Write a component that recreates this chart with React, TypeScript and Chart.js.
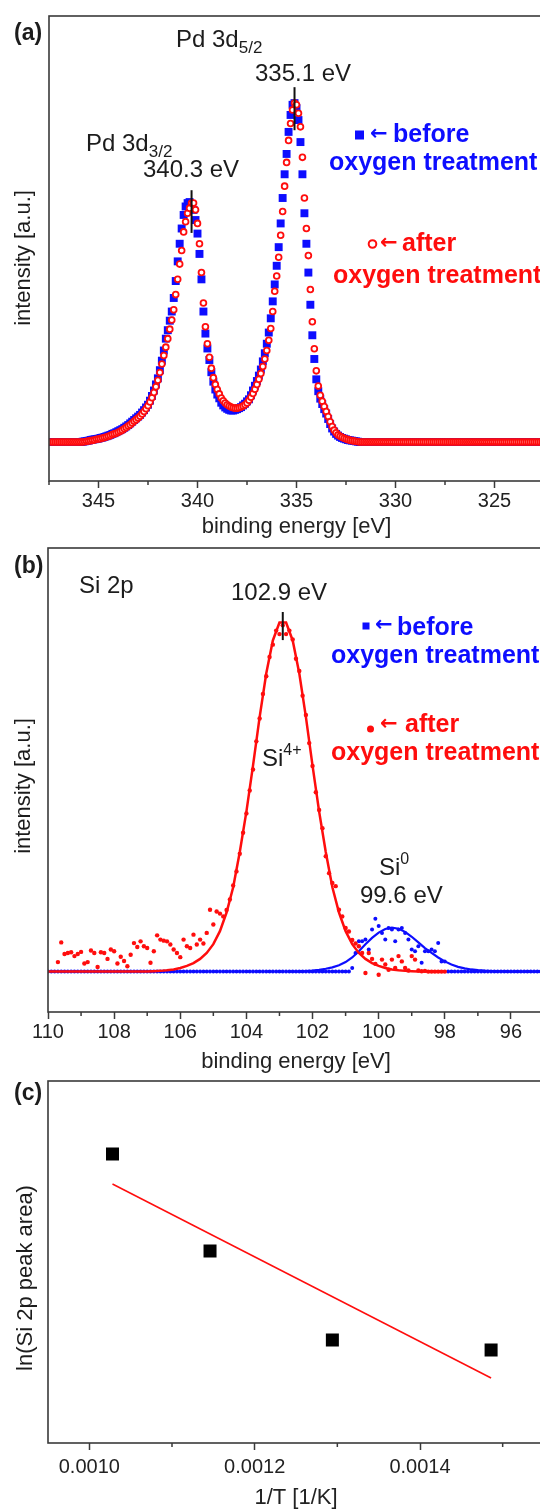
import React, { useEffect, useRef } from 'react';
import { Chart, registerables } from 'chart.js';

Chart.register(...registerables);

const FONT = "'Liberation Sans', Arial, Helvetica, sans-serif";
const ARROW_FONT = "'DejaVu Sans', 'Liberation Sans', sans-serif";
const BLUE = '#0d0dff';
const RED = '#ff0d0d';
const INK = '#1c1c1c';
const FRAME = '#3a3a3a';

// ---------------- panel (a): Pd 3d ----------------
const pdEnergy = [
  347.4, 347.3, 347.2, 347.1, 347.0, 346.9, 346.8, 346.7, 346.6, 346.5,
  346.4, 346.3, 346.2, 346.1, 346.0, 345.9, 345.8, 345.7, 345.6, 345.5,
  345.4, 345.3, 345.2, 345.1, 345.0, 344.9, 344.8, 344.7, 344.6, 344.5,
  344.4, 344.3, 344.2, 344.1, 344.0, 343.9, 343.8, 343.7, 343.6, 343.5,
  343.4, 343.3, 343.2, 343.1, 343.0, 342.9, 342.8, 342.7, 342.6, 342.5,
  342.4, 342.3, 342.2, 342.1, 342.0, 341.9, 341.8, 341.7, 341.6, 341.5,
  341.4, 341.3, 341.2, 341.1, 341.0, 340.9, 340.8, 340.7, 340.6, 340.5,
  340.4, 340.3, 340.2, 340.1, 340.0, 339.9, 339.8, 339.7, 339.6, 339.5,
  339.4, 339.3, 339.2, 339.1, 339.0, 338.9, 338.8, 338.7, 338.6, 338.5,
  338.4, 338.3, 338.2, 338.1, 338.0, 337.9, 337.8, 337.7, 337.6, 337.5,
  337.4, 337.3, 337.2, 337.1, 337.0, 336.9, 336.8, 336.7, 336.6, 336.5,
  336.4, 336.3, 336.2, 336.1, 336.0, 335.9, 335.8, 335.7, 335.6, 335.5,
  335.4, 335.3, 335.2, 335.1, 335.0, 334.9, 334.8, 334.7, 334.6, 334.5,
  334.4, 334.3, 334.2, 334.1, 334.0, 333.9, 333.8, 333.7, 333.6, 333.5,
  333.4, 333.3, 333.2, 333.1, 333.0, 332.9, 332.8, 332.7, 332.6, 332.5,
  332.4, 332.3, 332.2, 332.1, 332.0, 331.9, 331.8, 331.7, 331.6, 331.5,
  331.4, 331.3, 331.2, 331.1, 331.0, 330.9, 330.8, 330.7, 330.6, 330.5,
  330.4, 330.3, 330.2, 330.1, 330.0, 329.9, 329.8, 329.7, 329.6, 329.5,
  329.4, 329.3, 329.2, 329.1, 329.0, 328.9, 328.8, 328.7, 328.6, 328.5,
  328.4, 328.3, 328.2, 328.1, 328.0, 327.9, 327.8, 327.7, 327.6, 327.5,
  327.4, 327.3, 327.2, 327.1, 327.0, 326.9, 326.8, 326.7, 326.6, 326.5,
  326.4, 326.3, 326.2, 326.1, 326.0, 325.9, 325.8, 325.7, 325.6, 325.5,
  325.4, 325.3, 325.2, 325.1, 325.0, 324.9, 324.8, 324.7, 324.6, 324.5,
  324.4, 324.3, 324.2, 324.1, 324.0, 323.9, 323.8, 323.7, 323.6, 323.5,
  323.4, 323.3, 323.2, 323.1, 323.0, 322.9, 322.8, 322.7, 322.6, 322.5,
];
const pdBefore = [
  0, 0, 0, 0, 0, 0, 0, 0, 0, 0,
  0, 0, 0, 0, 0, 0, 0.1, 0.2, 0.3, 0.4,
  0.6, 0.7, 0.8, 0.9, 1.0, 1.2, 1.3, 1.5, 1.7, 1.9,
  2.1, 2.4, 2.6, 2.9, 3.2, 3.5, 3.8, 4.2, 4.6, 5.0,
  5.5, 6.0, 6.5, 7.0, 7.5, 8.0, 8.7, 9.4, 10.2, 11.0,
  12.2, 13.6, 15.2, 17.0, 18.8, 21.2, 24.0, 27.0, 30.5, 33.0,
  35.8, 38.5, 42.5, 47.5, 53.3, 58.5, 63.0, 67.0, 69.5, 70.5,
  70.8, 70.0, 68.5, 65.5, 61.5, 55.5, 48.0, 38.5, 32.0, 27.6,
  24.2, 20.6, 17.8, 15.5, 14.0, 12.9, 11.6, 10.8, 10.2, 9.8,
  9.5, 9.3, 9.3, 9.5, 9.7, 10.0, 10.3, 10.8, 11.3, 12.0,
  12.6, 13.8, 15.2, 16.6, 18.0, 19.6, 21.4, 23.8, 26.2, 29.0,
  32.3, 36.5, 41.5, 46.5, 52.0, 57.5, 64.5, 72.0, 79.0, 85.0,
  91.5, 96.5, 99.5, 100.0, 98.5, 95.0, 88.5, 79.0, 67.5, 58.5,
  50.0, 40.5, 31.5, 24.5, 18.5, 15.0, 12.8, 11.2, 9.7, 8.4,
  6.8, 5.3, 4.0, 3.1, 2.4, 1.9, 1.5, 1.2, 1.0, 0.8,
  0.6, 0.5, 0.4, 0.3, 0.2, 0.1, 0, 0, 0, 0,
  0, 0, 0, 0, 0, 0, 0, 0, 0, 0,
  0, 0, 0, 0, 0, 0, 0, 0, 0, 0,
  0, 0, 0, 0, 0, 0, 0, 0, 0, 0,
  0, 0, 0, 0, 0, 0, 0, 0, 0, 0,
  0, 0, 0, 0, 0, 0, 0, 0, 0, 0,
  0, 0, 0, 0, 0, 0, 0, 0, 0, 0,
  0, 0, 0, 0, 0, 0, 0, 0, 0, 0,
  0, 0, 0, 0, 0, 0, 0, 0, 0, 0,
  0, 0, 0, 0, 0, 0, 0, 0, 0, 0,
];
const pdAfter = [
  0, 0, 0, 0, 0, 0, 0, 0, 0, 0,
  0, 0, 0, 0, 0, 0, 0, 0.1, 0.2, 0.3,
  0.4, 0.5, 0.6, 0.8, 0.9, 1.0, 1.2, 1.3, 1.5, 1.7,
  1.9, 2.2, 2.4, 2.6, 2.9, 3.2, 3.5, 3.9, 4.3, 4.7,
  5.1, 5.6, 6.1, 6.6, 7.1, 7.6, 8.3, 9.0, 9.8, 10.7,
  11.8, 13.1, 14.6, 16.3, 18.2, 20.5, 23.0, 25.5, 28.0, 30.5,
  33.3, 36.0, 39.0, 43.5, 48.0, 52.5, 56.5, 62.0, 65.0, 67.5,
  69.0, 70.5, 70.5, 68.5, 64.5, 58.5, 50.0, 41.0, 34.0, 29.0,
  25.0, 21.8, 19.0, 17.0, 15.5, 14.2, 13.0, 12.2, 11.5, 11.0,
  10.6, 10.3, 10.1, 10.0, 10.0, 10.1, 10.3, 10.6, 11.0, 11.5,
  12.3, 13.2, 14.3, 15.6, 17.0, 18.5, 20.2, 22.3, 24.5, 27.0,
  30.0, 33.5, 38.5, 44.5, 49.0, 54.5, 61.0, 68.0, 75.5, 82.5,
  89.0, 94.0, 98.0, 100.0, 99.5, 97.0, 93.0, 84.0, 72.0, 63.0,
  55.0, 45.0, 35.5, 27.5, 21.0, 16.5, 13.8, 12.0, 10.5, 9.0,
  7.5, 6.0, 4.6, 3.5, 2.7, 2.1, 1.7, 1.4, 1.1, 0.9,
  0.7, 0.5, 0.4, 0.3, 0.2, 0.1, 0, 0, 0, 0,
  0, 0, 0, 0, 0, 0, 0, 0, 0, 0,
  0, 0, 0, 0, 0, 0, 0, 0, 0, 0,
  0, 0, 0, 0, 0, 0, 0, 0, 0, 0,
  0, 0, 0, 0, 0, 0, 0, 0, 0, 0,
  0, 0, 0, 0, 0, 0, 0, 0, 0, 0,
  0, 0, 0, 0, 0, 0, 0, 0, 0, 0,
  0, 0, 0, 0, 0, 0, 0, 0, 0, 0,
  0, 0, 0, 0, 0, 0, 0, 0, 0, 0,
  0, 0, 0, 0, 0, 0, 0, 0, 0, 0,
];
const pdMarkE = [340.3, 335.1];
const pdMarkLow = [61.7, 92.0];
const pdMarkHigh = [74.3, 104.7];
const pdTicks = [345, 340, 335, 330, 325];
const pdMinorTicks = [347.5, 342.5, 337.5, 332.5, 327.5];

// ---------------- panel (b): Si 2p ----------------
const siEnergy = [
  110.0, 109.9, 109.8, 109.7, 109.6, 109.5, 109.4, 109.3, 109.2, 109.1,
  109.0, 108.9, 108.8, 108.7, 108.6, 108.5, 108.4, 108.3, 108.2, 108.1,
  108.0, 107.9, 107.8, 107.7, 107.6, 107.5, 107.4, 107.3, 107.2, 107.1,
  107.0, 106.9, 106.8, 106.7, 106.6, 106.5, 106.4, 106.3, 106.2, 106.1,
  106.0, 105.9, 105.8, 105.7, 105.6, 105.5, 105.4, 105.3, 105.2, 105.1,
  105.0, 104.9, 104.8, 104.7, 104.6, 104.5, 104.4, 104.3, 104.2, 104.1,
  104.0, 103.9, 103.8, 103.7, 103.6, 103.5, 103.4, 103.3, 103.2, 103.1,
  103.0, 102.9, 102.8, 102.7, 102.6, 102.5, 102.4, 102.3, 102.2, 102.1,
  102.0, 101.9, 101.8, 101.7, 101.6, 101.5, 101.4, 101.3, 101.2, 101.1,
  101.0, 100.9, 100.8, 100.7, 100.6, 100.5, 100.4, 100.3, 100.2, 100.1,
  100.0, 99.9, 99.8, 99.7, 99.6, 99.5, 99.4, 99.3, 99.2, 99.1,
  99.0, 98.9, 98.8, 98.7, 98.6, 98.5, 98.4, 98.3, 98.2, 98.1,
  98.0, 97.9, 97.8, 97.7, 97.6, 97.5, 97.4, 97.3, 97.2, 97.1,
  97.0, 96.9, 96.8, 96.7, 96.6, 96.5, 96.4, 96.3, 96.2, 96.1,
  96.0, 95.9, 95.8, 95.7, 95.6, 95.5, 95.4, 95.3, 95.2, 95.1,
  95.0,
];
const siBefore = [
  0, 0, 0, 0, 0, 0, 0, 0, 0, 0,
  0, 0, 0, 0, 0, 0, 0, 0, 0, 0,
  0, 0, 0, 0, 0, 0, 0, 0, 0, 0,
  0, 0, 0, 0, 0, 0, 0, 0, 0, 0,
  0, 0, 0, 0, 0, 0, 0, 0, 0, 0,
  0, 0, 0, 0, 0, 0, 0, 0, 0, 0,
  0, 0, 0, 0, 0, 0, 0, 0, 0, 0,
  0, 0, 0, 0, 0, 0, 0, 0, 0, 0,
  0, 0, 0, 0, 0, 0, 0, 0, 0, 0,
  0, 0, 1.0, 5.3, 8.6, 8.6, 9.1, 6.3, 12.0, 15.0,
  13.0, 11.0, 9.1, 12.4, 12.0, 8.6, 12.0, 12.4, 11.0, 9.1,
  6.3, 5.8, 7.2, 2.5, 5.8, 5.8, 6.3, 5.8, 8.1, 2.9,
  2.9, 0, 0, 0, 0, 0, 0, 0, 0, 0,
  0, 0, 0, 0, 0, 0, 0, 0, 0, 0,
  0, 0, 0, 0, 0, 0, 0, 0, 0, 0,
  0,
];
const siAfter = [
  null, null, null, 2.7, 8.3, 5.0, 5.3, 5.5, 4.4, 5.0,
  5.6, 2.3, 2.7, 6.0, 5.3, 1.3, 5.5, 5.3, 3.6, 6.3,
  5.8, 2.3, 4.2, 3.0, 1.5, 4.8, 8.1, 7.0, 8.6, 7.2,
  6.7, 2.5, 5.8, 10.3, 9.1, 8.8, 8.6, 7.7, 6.3, 5.3,
  4.1, 9.1, 7.2, 6.7, 10.5, 7.7, 9.1, 8.0, 11.0, 17.6,
  13.4, 17.1, 16.5, 15.7, 17.5, 20.5, 24.5, 28.5, 33.5, 39.5,
  45.0, 51.5, 57.5, 65.5, 72.0, 79.0, 84.0, 89.5, 93.0, 97.0,
  96.0, 98.5, 96.0, 97.0, 94.5, 89.0, 85.5, 78.5, 73.0, 65.0,
  58.5, 51.0, 46.0, 40.8, 32.8, 28.0, 25.2, 24.3, 17.6, 15.7,
  12.4, 11.4, 9.0, 8.0, 7.2, 5.3, -0.4, 5.3, 3.6, 2.2,
  -0.9, 3.4, 2.0, 0.5, 3.4, 1.0, 4.4, 2.9, 1.0, 0.3,
  4.4, 3.4, 0.3, 0.1, 0.2, 0, 0, 0, 0, 0,
  0, null, null, null, null, null, null, null, null, null,
  null, null, null, null, null, null, null, null, null, null,
  null, null, null, null, null, null, null, null, null, null,
  null,
];
const siFitRedE = [
  110.0, 109.8, 109.6, 109.4, 109.2, 109.0, 108.8, 108.6, 108.4, 108.2,
  108.0, 107.8, 107.6, 107.4, 107.2, 107.0, 106.8, 106.6, 106.4, 106.2,
  106.0, 105.8, 105.6, 105.4, 105.2, 105.0, 104.8, 104.6, 104.4, 104.2,
  104.0, 103.8, 103.6, 103.4, 103.2, 103.0, 102.8, 102.6, 102.4, 102.2,
  102.0, 101.8, 101.6, 101.4, 101.2, 101.0, 100.8, 100.6, 100.4, 100.2,
  100.0, 99.8, 99.6, 99.4, 99.2, 99.0, 98.8, 98.6, 98.4, 98.2,
  98.0,
];
const siFitRed = [
  0, 0, 0, 0, 0, 0, 0, 0, 0, 0,
  0, 0, 0, 0, 0, 0, 0.1, 0.2, 0.35, 0.6,
  1.0, 1.6, 2.4, 3.6, 5.3, 7.8, 11.5, 16.8, 24.0, 34.0,
  45.5, 58.6, 72.4, 84.8, 94.2, 99.3, 99.3, 94.2, 84.8, 72.4,
  58.6, 45.5, 34.0, 24.0, 16.8, 11.5, 7.8, 5.3, 3.6, 2.4,
  1.6, 1.0, 0.6, 0.35, 0.2, 0.1, 0, 0, 0, 0,
  0,
];
const siFitBlueE = [
  102.6, 102.4, 102.2, 102.0, 101.8, 101.6, 101.4, 101.2, 101.0, 100.8,
  100.6, 100.4, 100.2, 100.0, 99.8, 99.6, 99.4, 99.2, 99.0, 98.8,
  98.6, 98.4, 98.2, 98.0, 97.8, 97.6, 97.4, 97.2, 97.0, 96.8,
  96.6, 96.4, 96.2, 96.0, 95.8, 95.6, 95.4, 95.2, 95.0,
];
const siFitBlue = [
  0, 0.05, 0.15, 0.3, 0.5, 0.8, 1.2, 1.8, 2.7, 4.0,
  5.8, 7.8, 9.6, 11.1, 12.1, 12.5, 12.2, 11.3, 9.9, 8.3,
  6.7, 5.3, 4.0, 2.9, 2.0, 1.35, 0.9, 0.6, 0.4, 0.25,
  0.15, 0.08, 0.03, 0, 0, 0, 0, 0, 0,
];
const siMarkE = [102.9];
const siMarkLow = [94.3];
const siMarkHigh = [102.3];
const siTicks = [110, 108, 106, 104, 102, 100, 98, 96];
const siMinorTicks = [109, 107, 105, 103, 101, 99, 97, 95];

// ---------------- panel (c): Arrhenius ----------------
const invT = [0.001028, 0.001146, 0.001294, 0.001486];
const lnArea = [8.89, 7.92, 7.03, 6.93];
const fitInvT = [0.001028, 0.001486];
const fitLn = [8.59, 6.65];
const invTTicks = [0.001, 0.0012, 0.0014];
const invTMinorTicks = [0.0011, 0.0013, 0.0015];

// ---------------- helpers ----------------
const font = (size: number, bold = false, family = FONT) => `${bold ? 'bold ' : ''}${size}px ${family}`;

function text(ctx: CanvasRenderingContext2D, s: string, x: number, y: number, size: number, color = INK, bold = false) {
  ctx.font = font(size, bold);
  ctx.fillStyle = color;
  ctx.textAlign = 'left';
  ctx.textBaseline = 'alphabetic';
  ctx.fillText(s, x, y);
  return x + ctx.measureText(s).width;
}

function arrow(ctx: CanvasRenderingContext2D, x: number, yMid: number, color: string) {
  ctx.font = font(21, true, ARROW_FONT);
  ctx.fillStyle = color;
  ctx.textAlign = 'left';
  ctx.textBaseline = 'middle';
  ctx.fillText('←', x, yMid);
}

function vtitle(ctx: CanvasRenderingContext2D, s: string, x: number, y: number) {
  ctx.save();
  ctx.translate(x, y);
  ctx.rotate(-Math.PI / 2);
  ctx.font = font(22);
  ctx.fillStyle = INK;
  ctx.textAlign = 'center';
  ctx.textBaseline = 'middle';
  ctx.fillText(s, 0, 0);
  ctx.restore();
}

function framePlugin(minor: number[], draw: (ctx: CanvasRenderingContext2D) => void) {
  return {
    id: 'frameAndText',
    afterDraw(chart: any) {
      const ctx: CanvasRenderingContext2D = chart.ctx;
      const a = chart.chartArea;
      ctx.save();
      ctx.strokeStyle = FRAME;
      ctx.lineWidth = 1.6;
      ctx.strokeRect(a.left, a.top, a.right - a.left, a.bottom - a.top);
      const xs = chart.scales.x;
      ctx.lineWidth = 1.5;
      ctx.beginPath();
      for (const v of minor) {
        const px = xs.getPixelForValue(v);
        ctx.moveTo(px, a.bottom);
        ctx.lineTo(px, a.bottom + 4);
      }
      ctx.stroke();
      draw(ctx);
      ctx.restore();
    },
  };
}

function xScale(o: {
  min: number; max: number; reverse: boolean; ticks: number[]; fmt: (v: any) => string;
  title: string; height: number; labelPad: number; titlePad: number;
}) {
  return {
    type: 'linear',
    min: o.min,
    max: o.max,
    reverse: o.reverse,
    afterBuildTicks: (s: any) => { s.ticks = o.ticks.map((v) => ({ value: v })); },
    afterFit: (s: any) => { s.height = o.height; },
    ticks: {
      autoSkip: false, maxRotation: 0, minRotation: 0, padding: o.labelPad, color: '#222',
      font: { family: FONT, size: 20 }, callback: o.fmt,
    },
    grid: { display: true, drawOnChartArea: false, drawTicks: true, tickLength: 7, tickWidth: 1.5, tickColor: FRAME, color: FRAME },
    border: { display: false },
    title: { display: true, text: o.title, color: '#222', font: { family: FONT, size: 22 }, padding: { top: 0, bottom: o.titlePad } },
  };
}

function yScale(min: number, max: number, width: number) {
  return {
    type: 'linear', min, max,
    afterFit: (s: any) => { s.width = width; },
    ticks: { display: false },
    grid: { display: false },
    border: { display: false },
  };
}

const common = {
  responsive: false,
  animation: false as const,
  devicePixelRatio: 1,
  events: [] as any[],
  plugins: { legend: { display: false }, tooltip: { enabled: false } },
};

const pts = (xs: number[], ys: (number | null)[]) =>
  xs.map((x, i) => ({ x, y: ys[i] })).filter((p) => p.y !== null);

function markLines(es: number[], lo: number[], hi: number[]) {
  return es.map((e, i) => ({
    data: [{ x: e, y: lo[i] }, { x: e, y: hi[i] }],
    showLine: true, borderColor: '#111', borderWidth: 2, pointRadius: 0,
  }));
}

// Canvases are 546px wide inside a 540px clipping box: the plot frame ends at x=544,
// so its right edge falls just outside the picture, as in the reference.
const CANVAS_W = 546;
const layoutFor = (top: number) => ({
  autoPadding: false,
  padding: { top, right: 2, left: 0, bottom: 0 },
});

// ---------------- configs ----------------
function configA(): any {
  return {
    type: 'scatter',
    data: {
      datasets: [
        ...markLines(pdMarkE, pdMarkLow, pdMarkHigh),
        {
          data: pts(pdEnergy, pdAfter), pointStyle: 'circle', pointRadius: 2.9,
          pointBorderWidth: 1.8, pointBorderColor: RED, pointBackgroundColor: '#fff',
        },
        {
          data: pts(pdEnergy, pdBefore), pointStyle: 'rect', pointRadius: 5.6,
          pointBorderWidth: 0, pointBackgroundColor: BLUE, pointBorderColor: BLUE,
        },
      ],
    },
    options: {
      ...common,
      layout: layoutFor(16),
      scales: {
        x: xScale({ min: 322.5, max: 347.5, reverse: true, ticks: pdTicks, fmt: (v) => String(v),
          title: 'binding energy [eV]', height: 59, labelPad: 1, titlePad: 0 }),
        y: yScale(-11.5, 125.7, 49),
      },
    },
    plugins: [framePlugin(pdMinorTicks, (ctx) => {
      text(ctx, '(a)', 14, 40, 23, INK, true);
      let e = text(ctx, 'Pd 3d', 176, 47, 24);
      text(ctx, '5/2', e, 53, 17);
      text(ctx, '335.1 eV', 255, 81, 24);
      e = text(ctx, 'Pd 3d', 86, 151, 24);
      text(ctx, '3/2', e, 157, 17);
      text(ctx, '340.3 eV', 143, 177, 24);
      ctx.fillStyle = BLUE;
      ctx.fillRect(355, 130.5, 9, 9);
      arrow(ctx, 370, 135, BLUE);
      text(ctx, 'before', 393, 142, 25, BLUE, true);
      text(ctx, 'oxygen treatment', 329, 170, 25, BLUE, true);
      ctx.strokeStyle = RED;
      ctx.lineWidth = 2;
      ctx.beginPath();
      ctx.arc(372.5, 244, 3.8, 0, Math.PI * 2);
      ctx.stroke();
      arrow(ctx, 380, 244, RED);
      text(ctx, 'after', 402, 251, 25, RED, true);
      text(ctx, 'oxygen treatment', 333, 283, 25, RED, true);
      vtitle(ctx, 'intensity [a.u.]', 24, 258);
    })],
  };
}

function configB(): any {
  return {
    type: 'scatter',
    data: {
      datasets: [
        ...markLines(siMarkE, siMarkLow, siMarkHigh),
        {
          data: pts(siEnergy, siAfter), pointStyle: 'circle', pointRadius: 2.2,
          pointBorderWidth: 0, pointBackgroundColor: RED, pointBorderColor: RED,
        },
        {
          data: pts(siFitRedE, siFitRed), showLine: true, borderColor: RED, borderWidth: 2.5, pointRadius: 0,
        },
        {
          data: pts(siEnergy, siBefore), pointStyle: 'circle', pointRadius: 2.0,
          pointBorderWidth: 0, pointBackgroundColor: BLUE, pointBorderColor: BLUE,
        },
        {
          data: pts(siFitBlueE, siFitBlue), showLine: true, borderColor: BLUE, borderWidth: 2.2, pointRadius: 0,
        },
      ],
    },
    options: {
      ...common,
      layout: layoutFor(8),
      scales: {
        x: xScale({ min: 95, max: 110, reverse: true, ticks: siTicks, fmt: (v) => String(v),
          title: 'binding energy [eV]', height: 68, labelPad: 1, titlePad: 5 }),
        y: yScale(-11.5, 120.5, 48),
      },
    },
    plugins: [framePlugin(siMinorTicks, (ctx) => {
      text(ctx, '(b)', 14, 33, 23, INK, true);
      text(ctx, 'Si 2p', 79, 53, 24);
      text(ctx, '102.9 eV', 231, 60, 24);
      ctx.fillStyle = BLUE;
      ctx.fillRect(362.5, 82.5, 7, 7);
      arrow(ctx, 375, 86, BLUE);
      text(ctx, 'before', 397, 95, 25, BLUE, true);
      text(ctx, 'oxygen treatment', 331, 123, 25, BLUE, true);
      ctx.fillStyle = RED;
      ctx.beginPath();
      ctx.arc(370.5, 189, 3.5, 0, Math.PI * 2);
      ctx.fill();
      arrow(ctx, 380, 185, RED);
      text(ctx, 'after', 405, 192, 25, RED, true);
      text(ctx, 'oxygen treatment', 331, 220, 25, RED, true);
      let e = text(ctx, 'Si', 262, 226, 24);
      text(ctx, '4+', e, 215, 16);
      e = text(ctx, 'Si', 379, 335, 24);
      text(ctx, '0', e, 324, 16);
      text(ctx, '99.6 eV', 360, 363, 24);
      vtitle(ctx, 'intensity [a.u.]', 24, 246);
    })],
  };
}

function configC(): any {
  return {
    type: 'scatter',
    data: {
      datasets: [
        {
          data: pts(invT, lnArea), pointStyle: 'rect', pointRadius: 9.2,
          pointBorderWidth: 0, pointBackgroundColor: '#000', pointBorderColor: '#000',
        },
        {
          data: pts(fitInvT, fitLn), showLine: true, borderColor: RED, borderWidth: 1.5, pointRadius: 0,
        },
      ],
    },
    options: {
      ...common,
      layout: layoutFor(1),
      scales: {
        x: xScale({ min: 0.00095, max: 0.00155, reverse: false, ticks: invTTicks, fmt: (v) => Number(v).toFixed(4),
          title: '1/T [1/K]', height: 69, labelPad: 5, titlePad: 1 }),
        y: yScale(6.0, 9.62, 48),
      },
    },
    plugins: [framePlugin(invTMinorTicks, (ctx) => {
      text(ctx, '(c)', 14, 20, 23, INK, true);
      vtitle(ctx, 'ln(Si 2p peak area)', 26, 198);
    })],
  };
}

function Panel({ top, height, make }: { top: number; height: number; make: () => any }) {
  const ref = useRef<HTMLCanvasElement>(null);
  useEffect(() => {
    const chart = new Chart(ref.current as HTMLCanvasElement, make());
    return () => chart.destroy();
  }, []);
  return (
    <canvas
      ref={ref}
      width={CANVAS_W}
      height={height}
      style={{ position: 'absolute', left: 0, top, width: CANVAS_W, height, display: 'block' }}
    />
  );
}

export default function App() {
  return (
    <div style={{ position: 'absolute', left: 0, top: 0, width: 540, height: 1512, overflow: 'hidden', background: '#fff' }}>
      <Panel top={0} height={540} make={configA} />
      <Panel top={540} height={540} make={configB} />
      <Panel top={1080} height={432} make={configC} />
    </div>
  );
}
